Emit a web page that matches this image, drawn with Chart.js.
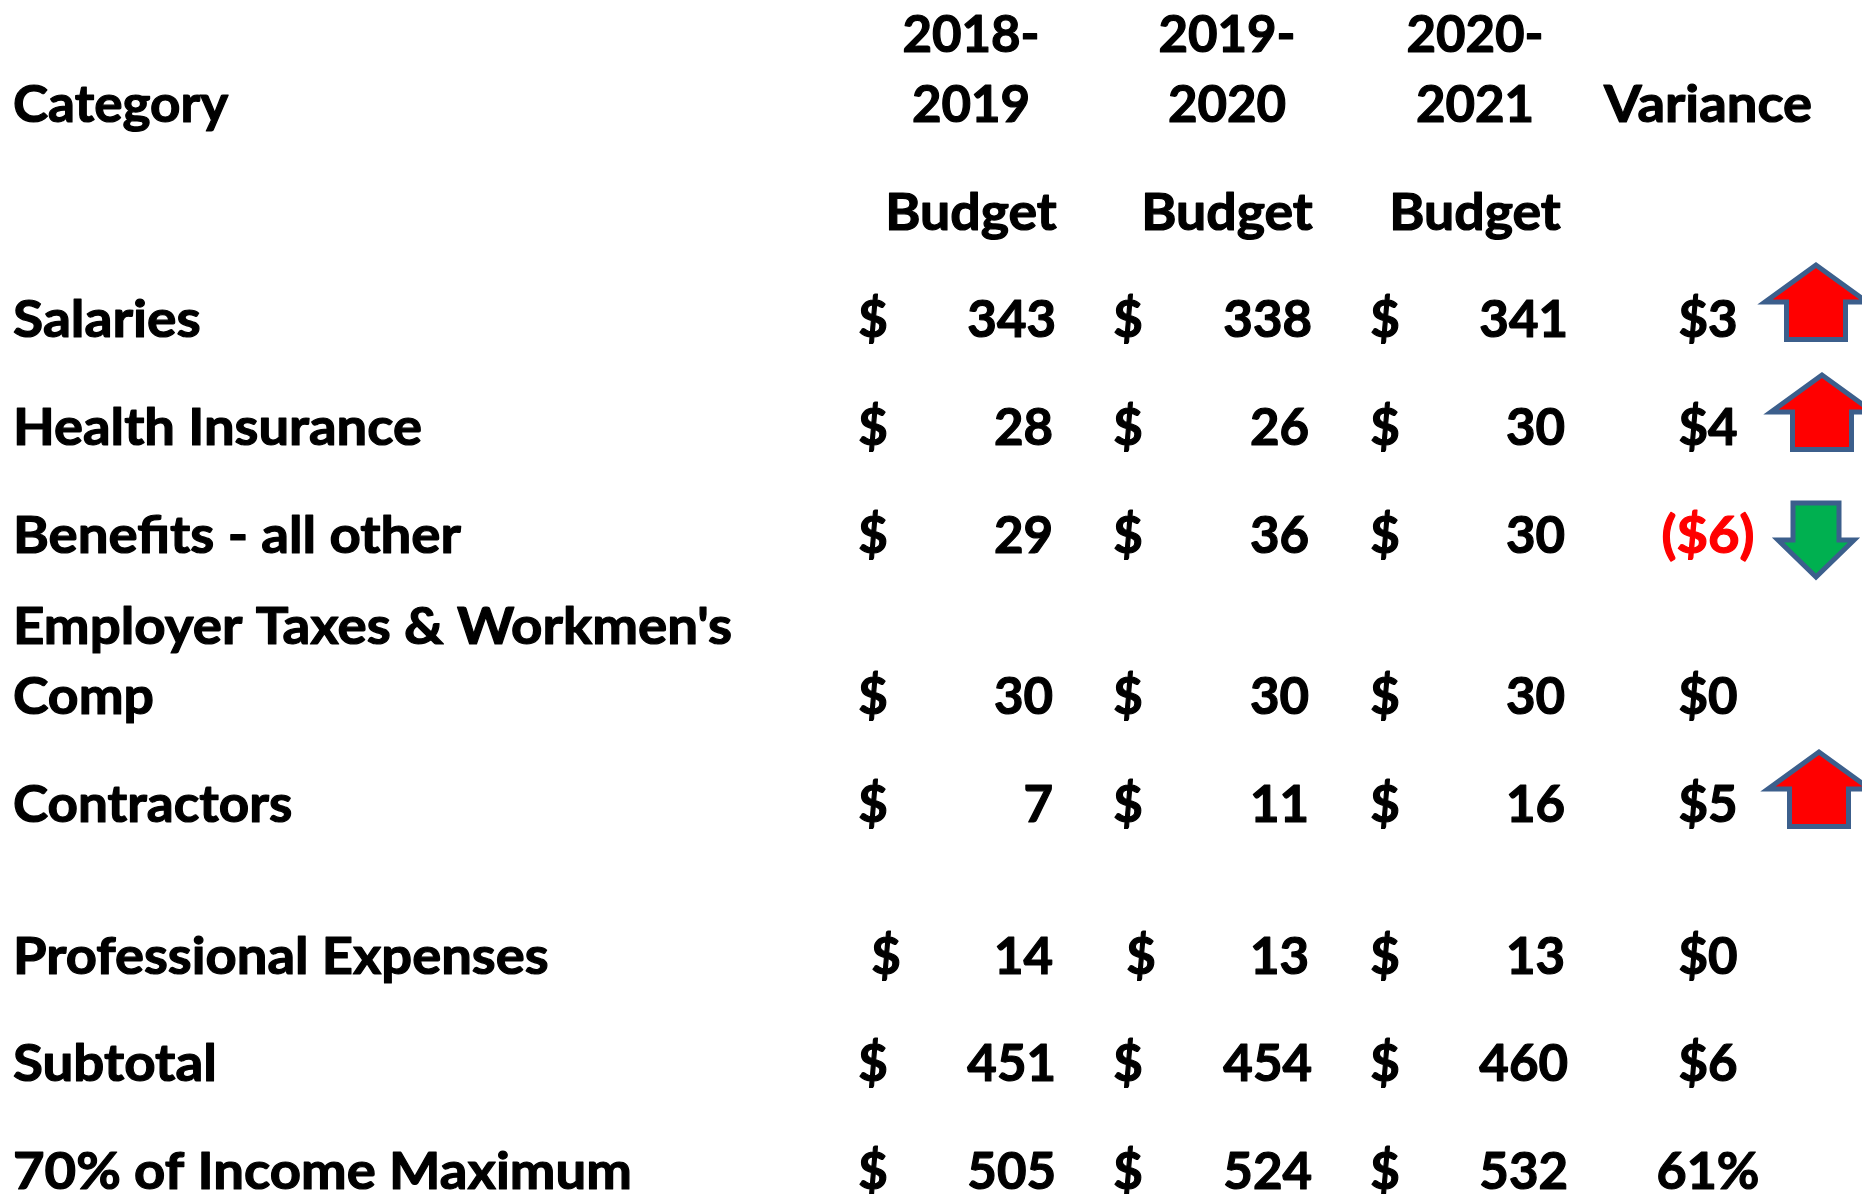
<!DOCTYPE html>
<html><head><meta charset="utf-8">
<style>html,body{margin:0;padding:0;background:#fff}canvas{display:block}</style>
<script src="https://cdn.jsdelivr.net/npm/chart.js@4"></script>
</head><body><canvas id="c" width="1862" height="1194"></canvas>
<script>
const categories=["Salaries","Health Insurance","Benefits - all other","Comp","Contractors","Professional Expenses","Subtotal","70% of Income Maximum"];
const budget2018=[343,28,29,30,7,14,451,505];
const budget2019=[338,26,36,30,11,13,454,524];
const budget2020=[341,30,30,30,16,13,460,532];
const variance=["$3","$4","($6)","$0","$5","$0","$6","61%"];
const varianceColor=["#000","#000","#f00","#000","#000","#000","#000","#000"];
const rowY=[337,445,553,714,822,974,1081,1189];
const headerTexts=[["Category",13,122,"left"],["2018-",971,52,"center"],["2019",971,122,"center"],["Budget",971,230,"center"],["2019-",1227,52,"center"],["2020",1227,122,"center"],["Budget",1227,230,"center"],["2020-",1475,52,"center"],["2021",1475,122,"center"],["Budget",1475,230,"center"],["Variance",1708,122,"center"],["Employer Taxes & Workmen's",13,644,"left"]];
const dollarX=[[873,873,873,873,873,886,873,873],[1128,1128,1128,1128,1128,1141,1128,1128],[1385,1385,1385,1385,1385,1385,1385,1385]];
const valueRight=[1056,1312,1568];
const arrowRows=[{i:0,x:1816,dir:1,dy:-33},{i:1,x:1822,dir:1,dy:-31},{i:2,x:1816,dir:-1,dy:-13},{i:4,x:1819,dir:1,dy:-31}];
const FONT='bold 52px Lato';
const textFit={"Category":1.02,"Contractors":1.02,"Budget":1.03,"Professional Expenses":1.045,"70% of Income Maximum":1.048,"Salaries":1.06,"Health Insurance":1.045,"Benefits - all other":1.05,"Employer Taxes & Workmen's":1.052,"Subtotal":1.052,"Variance":1.045,"Comp":1.03,"($6)":1.045,"61%":1.0};
function fit(t){return textFit[t]!==undefined?textFit[t]:0.98;}
function arrow(dir){
  const c=document.createElement('canvas');c.width=130;c.height=96;
  const g=c.getContext('2d');
  const up=dir>0;
  const pts=up?[[65,9],[14,46],[35.5,46],[35.5,83.5],[94.5,83.5],[94.5,46],[116,46]]:[[65,85],[27,48],[42,48],[42,11],[88,11],[88,48],[103,48]];
  g.beginPath();pts.forEach((p,i)=>i?g.lineTo(p[0],p[1]):g.moveTo(p[0],p[1]));g.closePath();
  g.fillStyle=up?'#ff0000':'#00b050';g.fill();
  g.strokeStyle='#3c5f8c';g.lineWidth=5;g.lineJoin='miter';g.stroke();
  return c;
}
function textDataset(pts,align,extra){return Object.assign({type:'scatter',data:pts,pointRadius:0,textAlign:align,isText:true},extra||{});}
const datasets=[];
datasets.push(textDataset(categories.map((t,i)=>({x:13,y:rowY[i],t})),'left'));
[budget2018,budget2019,budget2020].forEach((b,c)=>{
  datasets.push(textDataset(b.map((v,i)=>({x:valueRight[c]-(v>=100?0:3),y:rowY[i],t:String(v)})),'right'));
  datasets.push(textDataset(b.map((v,i)=>({x:dollarX[c][i],y:rowY[i],t:'$'})),'center'));
});
datasets.push(textDataset(variance.map((t,i)=>({x:1708,y:rowY[i],t,color:varianceColor[i]})),'center'));
datasets.push(textDataset(headerTexts.map(h=>({x:h[1],y:h[2],t:h[0],align:h[3]})),'center'));
datasets.push({type:'scatter',data:arrowRows.map(a=>({x:a.x,y:rowY[a.i]+a.dy})),pointStyle:arrowRows.map(a=>arrow(a.dir)),pointRadius:40,clip:false});
const textPlugin={id:'text',afterDatasetsDraw(chart){
  const g=chart.ctx;g.save();g.font=FONT;g.textBaseline='alphabetic';g.lineJoin='round';g.lineWidth=1.2;
  chart.data.datasets.forEach((d,di)=>{ if(!d.isText)return;
    chart.getDatasetMeta(di).data.forEach((el,i)=>{const p=d.data[i];
      g.save();g.translate(el.x,el.y);g.scale(fit(p.t),1);
      g.textAlign=p.align||d.textAlign;g.fillStyle=g.strokeStyle=p.color||'#000';g.fillText(p.t,0,0);g.strokeText(p.t,0,0);g.restore();});
  });g.restore();}};
new Chart(document.getElementById('c'),{type:'scatter',data:{datasets},plugins:[textPlugin],options:{
  responsive:false,animation:false,layout:{padding:0,autoPadding:false},
  plugins:{legend:{display:false},tooltip:{enabled:false}},
  scales:{x:{type:'linear',display:false,min:0,max:1862},y:{type:'linear',display:false,min:0,max:1194,reverse:true}}
}});
</script></body></html>
